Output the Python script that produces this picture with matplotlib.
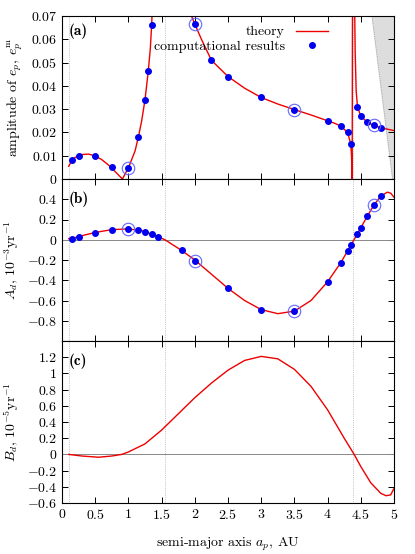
import matplotlib
matplotlib.use("Agg")
import numpy as np
import matplotlib.pyplot as plt
from matplotlib.ticker import FuncFormatter

plt.rcParams.update({
    "font.family": "serif",
    "font.serif": ["cmr10", "DejaVu Serif"],
    "mathtext.fontset": "cm",
    "axes.formatter.use_mathtext": True,
    "font.size": 10,
    "xtick.direction": "in",
    "ytick.direction": "in",
    "xtick.top": True,
    "ytick.right": True,
    "axes.linewidth": 0.8,
})

# ── Data ─────────────────────────────────────────────────────────────
# (a) amplitude of e_p : theory curve (values above 0.07 are off-scale)
a_theory_x = [0.1, 0.15, 0.2, 0.3, 0.4, 0.5, 0.6, 0.7, 0.8, 0.91, 1.0, 1.1, 1.15,
              1.2, 1.25, 1.3, 1.33, 1.35, 1.37, 1.93, 1.95, 2.0, 2.1, 2.25, 2.5,
              2.75, 3.0, 3.25, 3.5, 3.75, 4.0, 4.1, 4.2, 4.3, 4.33, 4.35, 4.36,
              4.37, 4.375, 4.405, 4.415, 4.43, 4.45, 4.5, 4.6, 4.7, 4.8, 4.9, 5.0]
a_theory_y = [0.0055, 0.0078, 0.0093, 0.0105, 0.0107, 0.0099, 0.0083, 0.0060,
              0.0032, 0.0, 0.0048, 0.012, 0.018, 0.025, 0.034, 0.0465, 0.056,
              0.066, 0.08, 0.08, 0.07, 0.0665, 0.060, 0.051, 0.044, 0.039,
              0.035, 0.0322, 0.0298, 0.0275, 0.025, 0.024, 0.0227, 0.020,
              0.017, 0.015, 0.010, 0.0, 0.08, 0.08, 0.055, 0.038, 0.031, 0.027,
              0.0243, 0.023, 0.022, 0.0214, 0.0208]
a_pts_x = [0.15, 0.25, 0.5, 0.75, 1.0, 1.15, 1.25, 1.3, 1.35, 2.0, 2.25, 2.5,
           3.0, 3.5, 4.0, 4.2, 4.3, 4.35, 4.45, 4.5, 4.6, 4.7, 4.8]
a_pts_y = [0.008, 0.010, 0.0098, 0.0053, 0.0048, 0.018, 0.034, 0.0465, 0.066,
           0.0665, 0.051, 0.044, 0.035, 0.0298, 0.025, 0.0227, 0.020, 0.015,
           0.031, 0.027, 0.0243, 0.023, 0.022]
a_circ_x = [1.0, 2.0, 3.5, 4.7]
a_circ_y = [0.0048, 0.0665, 0.0298, 0.023]

# (b) A_d, 1e-3 / yr
b_theory_x = [0.1, 0.2, 0.3, 0.5, 0.75, 1.0, 1.2, 1.35, 1.55, 1.8, 2.0, 2.25,
              2.5, 2.75, 3.0, 3.25, 3.5, 3.75, 4.0, 4.2, 4.35, 4.45, 4.6, 4.7,
              4.8, 4.9, 4.95, 5.0]
b_theory_y = [0.01, 0.022, 0.04, 0.072, 0.1, 0.107, 0.09, 0.055, 0.0, -0.105,
              -0.2, -0.34, -0.48, -0.6, -0.69, -0.73, -0.705, -0.6, -0.415,
              -0.225, -0.055, 0.06, 0.235, 0.345, 0.43, 0.47, 0.46, 0.42]
b_pts_x = [0.15, 0.25, 0.5, 0.75, 1.0, 1.15, 1.25, 1.35, 1.45, 1.8, 2.0, 2.5,
           3.0, 3.5, 4.0, 4.2, 4.3, 4.35, 4.45, 4.5, 4.6, 4.7, 4.8]
b_pts_y = [0.01, 0.025, 0.07, 0.1, 0.105, 0.095, 0.08, 0.055, 0.025, -0.105,
           -0.205, -0.48, -0.69, -0.705, -0.415, -0.225, -0.115, -0.055, 0.06,
           0.12, 0.235, 0.345, 0.43]
b_circ_x = [1.0, 2.0, 3.5, 4.7]
b_circ_y = [0.105, -0.205, -0.705, 0.345]

# (c) B_d, 1e-5 / yr
c_theory_x = [0.1, 0.3, 0.55, 0.75, 0.9, 1.0, 1.25, 1.5, 1.75, 2.0, 2.25, 2.5,
              2.75, 3.0, 3.25, 3.5, 3.75, 4.0, 4.25, 4.4, 4.5, 4.65, 4.8, 4.88,
              4.95, 5.0]
c_theory_y = [0.0, -0.02, -0.035, -0.02, 0.0, 0.03, 0.13, 0.3, 0.5, 0.7, 0.88,
              1.04, 1.16, 1.21, 1.18, 1.05, 0.84, 0.55, 0.2, 0.0, -0.15, -0.35,
              -0.48, -0.51, -0.5, -0.42]

vlines_x = [0.1, 1.55, 4.38]
shade_x = [4.67, 4.98, 5.0, 5.0]
shade_y = [0.07, 0.0, 0.0, 0.07]

RED = "#ee0000"
BLUE = "#0000ee"


def _tick(v, pos):
    v = round(v, 6)
    if v == 0:
        return "$0$"
    return f"${v:g}$"


fmt = FuncFormatter(_tick)

W, H = 415, 554
fig = plt.figure(figsize=(W / 100, H / 100), dpi=100)
L, R = 62 / W, 394 / W


def panel(top, bot):
    return fig.add_axes([L, 1 - bot / H, R - L, (bot - top) / H])


ax_a = panel(16, 179)
ax_b = panel(179, 341)
ax_c = panel(341, 503)

for ax in (ax_a, ax_b, ax_c):
    ax.set_xlim(0, 5)
    ax.set_xticks(np.arange(0, 5.01, 0.5))
    for xv in vlines_x:
        ax.axvline(xv, color="#999999", lw=0.5, ls=":", zorder=0)
    ax.yaxis.set_major_formatter(fmt)
    ax.xaxis.set_major_formatter(fmt)
    ax.tick_params(length=4, width=0.7, labelsize=10)

bold = dict(family=["cmb10", "DejaVu Serif"], fontsize=11)

# (a)
ax_a.fill(shade_x, shade_y, color="#dddddd", zorder=0)
ax_a.plot(shade_x[:2], shade_y[:2], color="#888888", lw=0.5, ls=":")
ax_a.plot(a_theory_x, a_theory_y, color=RED, lw=1, label="theory")
ax_a.plot(a_pts_x, a_pts_y, "o", color=BLUE, ms=4, label="computational results")
ax_a.plot(a_circ_x, a_circ_y, "o", mfc="none", mec="#6666ff", ms=9, mew=0.8)
ax_a.set_ylim(0, 0.07)
ax_a.set_yticks(np.arange(0, 0.0701, 0.01))
ax_a.set_ylabel(r"amplitude of $e_p$, $e_p^{\rm m}$")
ax_a.legend(loc="upper right", frameon=False, markerfirst=False,
            bbox_to_anchor=(0.83, 1.0), handlelength=2.3, fontsize=10,
            labelspacing=0.1, borderaxespad=0.3)
ax_a.tick_params(labelbottom=False)
ax_a.text(0.1, 0.062, "(a)", **bold)

# (b)
ax_b.axhline(0, color="#888888", lw=0.7)
ax_b.plot(b_theory_x, b_theory_y, color=RED, lw=1)
ax_b.plot(b_pts_x, b_pts_y, "o", color=BLUE, ms=4)
ax_b.plot(b_circ_x, b_circ_y, "o", mfc="none", mec="#6666ff", ms=9, mew=0.8)
ax_b.set_ylim(-1.0, 0.6)
ax_b.set_yticks(np.arange(-0.8, 0.41, 0.2))
ax_b.set_ylabel(r"$A_d$, $10^{-3}$yr$^{-1}$")
ax_b.tick_params(labelbottom=False)
ax_b.text(0.1, 0.36, "(b)", **bold)

# (c)
ax_c.axhline(0, color="#888888", lw=0.7)
ax_c.plot(c_theory_x, c_theory_y, color=RED, lw=1)
ax_c.set_ylim(-0.6, 1.4)
ax_c.set_yticks(np.arange(-0.6, 1.21, 0.2))
ax_c.set_ylabel(r"$B_d$, $10^{-5}$yr$^{-1}$")
ax_c.set_xlabel(r"semi-major axis $a_p$, AU", labelpad=10)
ax_c.text(0.1, 1.1, "(c)", **bold)

fig.align_ylabels([ax_a, ax_b, ax_c])
fig.savefig("out.png", dpi=100)
